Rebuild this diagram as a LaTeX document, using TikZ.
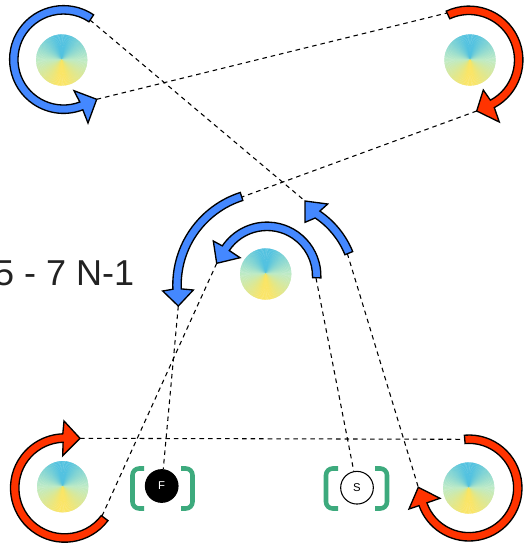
\documentclass[tikz,border=0pt]{standalone}
\usepackage{fontspec}
\setmainfont{Liberation Sans}
\definecolor{discblue}{HTML}{52C2E0}
\definecolor{discgreen}{HTML}{BDEBC6}
\definecolor{discyellow}{HTML}{FAE566}
\definecolor{arrowblue}{HTML}{4488FF}
\definecolor{arrowred}{HTML}{FF3300}
\definecolor{bracketgreen}{HTML}{3DAA7D}
\definecolor{labelink}{HTML}{222222}
\newcommand{\conedisc}[3]{%
  \coordinate (#1) at (#2,-#3);
  \foreach \a in {0,2,...,178}{%
    \pgfmathsetmacro{\mida}{\a+1}
    \pgfmathsetmacro{\pa}{\mida<90 ? max(0,(\mida-14)/76*100) : min(100,(\mida-90)/80*100)}
    \ifdim\mida pt<90pt
      \def\mixc{discgreen!\pa!discblue}
    \else
      \def\mixc{discyellow!\pa!discgreen}
    \fi
    \fill[fill=\mixc,draw=\mixc,line width=.1pt] (#1) -- ++({90-\a}:25.5) arc[start angle={90-\a},end angle={90-\a-2},radius=25.5] -- cycle;
    \fill[fill=\mixc,draw=\mixc,line width=.1pt] (#1) -- ++({90+\a}:25.5) arc[start angle={90+\a},end angle={90+\a+2},radius=25.5] -- cycle;
  }%
}
% cx, cy, r, a1, a2, colour, outer, tip, inner
\newcommand{\bandarrow}[9]{%
  \def\cx{#1}\def\cy{#2}\def\rr{#3}\def\aa{#4}\def\ab{#5}\def\cc{#6}\def\hout{#7}\def\htip{#8}\def\hin{#9}%
  \draw[arrowedge,fill=\cc]
    ([shift={(\cx,-\cy)}]\aa:\rr+4.2) arc[start angle=\aa,end angle=\ab,radius=\rr+4.2]
    -- \hout -- \htip -- \hin
    -- ([shift={(\cx,-\cy)}]\ab:\rr-4.2) arc[start angle=\ab,end angle=\aa,radius=\rr-4.2] -- cycle;
}
\tikzset{
  arrowedge/.style={draw=black,line width=1pt,line join=miter},
  link/.style={draw=black,line width=.8pt,dash pattern=on 3.4pt off 3pt},
  bracket/.style={draw=bracketgreen,line width=3.4pt,rounded corners=5pt},
  seat/.style={circle,draw=black,line width=.8pt,minimum size=24.5pt,inner sep=0pt,font=\fontsize{8.5pt}{10pt}\selectfont},
}
\begin{document}
\begin{tikzpicture}[x=.75pt,y=.75pt]
\useasboundingbox (0,0) rectangle (528,-547);
\clip (0,0) rectangle (528,-547);
\fill[white] (0,0) rectangle (528,-547);

\coordinate (tlS) at (90,-20);   \coordinate (tlT) at (96.7,-99.3);
\coordinate (trS) at (447,-13);  \coordinate (trT) at (476.7,-111);
\coordinate (loS) at (242,-197); \coordinate (loT) at (178.3,-306);
\coordinate (inS) at (316,-278); \coordinate (inT) at (216.7,-263.3);
\coordinate (roS) at (347.3,-253.5); \coordinate (roT) at (305,-201);
\coordinate (blS) at (102,-516); \coordinate (blT) at (80,-438.3);
\coordinate (brS) at (465,-439.3); \coordinate (brT) at (418.3,-487.3);

\node[seat,fill=black,text=white] (F) at (161.7,-486) {F};
\node[seat,fill=white,text=black] (S) at (357,-487.7) {S};

\draw[link] (tlS) -- (roT);
\draw[link] (tlT) -- (trS);
\draw[link] (trT) -- (loS);
\draw[link] (inT) -- (blS);
\draw[link] (loT) -- (F);
\draw[link] (inS) -- (S);
\draw[link] (roS) -- (brT);
\draw[link] (blT) -- (brS);

\conedisc{dtl}{61.7}{60}
\conedisc{dtr}{470}{60}
\conedisc{dc}{265.7}{274}
\conedisc{dbl}{62.7}{486.7}
\conedisc{dbr}{468.7}{488}

\bandarrow{63.5}{59.5}{49.7}{56}{291}{arrowblue}{(88,-123)}{(tlT)}{(74,-90.7)}
\bandarrow{469}{60}{49.7}{115}{-62}{arrowred}{(499.3,-122)}{(trT)}{(483.3,-90)}
\bandarrow{270}{285}{93}{107.8}{182.5}{arrowblue}{(162.7,-291)}{(loT)}{(193.3,-290)}
\bandarrow{267}{276}{49.7}{-2}{146}{arrowblue}{(213.3,-241)}{(inT)}{(240,-257.7)}
\bandarrow{270}{285}{85}{22}{56}{arrowblue}{(327.7,-204)}{(roT)}{(305,-222.3)}
\bandarrow{64.7}{488}{50}{-37}{-268}{arrowred}{(64,-421)}{(blT)}{(62.7,-455.7)}
\bandarrow{469}{488}{48.8}{95}{-160.6}{arrowred}{(409,-509)}{(brT)}{(440,-498.3)}

\draw[bracket] (144,-468.5) -- (132.5,-468.5) -- (132.5,-508.5) -- (144,-508.5);
\draw[bracket] (181,-468.5) -- (192.5,-468.5) -- (192.5,-508.5) -- (181,-508.5);
\draw[bracket] (338,-468.5) -- (326,-468.5) -- (326,-508.5) -- (338,-508.5);
\draw[bracket] (375,-468.5) -- (387,-468.5) -- (387,-508.5) -- (375,-508.5);

\node[anchor=base east,inner sep=0pt,text=labelink,font=\fontsize{27pt}{32pt}\selectfont] (label) at (134.5,-285.7) {5 - 7 N-1};
\end{tikzpicture}
\end{document}
